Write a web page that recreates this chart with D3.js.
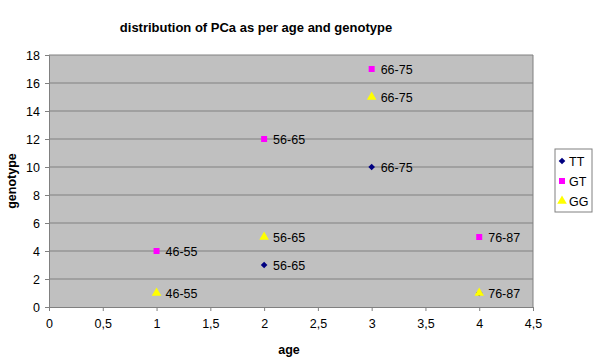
<!DOCTYPE html>
<html>
<head>
<meta charset="utf-8">
<script src="https://cdn.jsdelivr.net/npm/d3@7"></script>
<style>
  body { margin: 0; background: #fff; }
  text { font-family: "Liberation Sans", Arial, sans-serif; }
</style>
</head>
<body>
<div id="chart"></div>
<script>
// data
const ageGroups = ["46-55", "56-65", "66-75", "76-87"];
const ttPoints = [{ x: 2, y: 3, label: "56-65" }, { x: 3, y: 10, label: "66-75" }, { x: 4, y: 1, label: "76-87" }];
const gtPoints = [{ x: 1, y: 4, label: "46-55" }, { x: 2, y: 12, label: "56-65" }, { x: 3, y: 17, label: "66-75" }, { x: 4, y: 5, label: "76-87" }];
const ggPoints = [{ x: 1, y: 1, label: "46-55" }, { x: 2, y: 5, label: "56-65" }, { x: 3, y: 15, label: "66-75" }, { x: 4, y: 1, label: "76-87" }];
const xTicks = [0, 0.5, 1, 1.5, 2, 2.5, 3, 3.5, 4, 4.5];
const yTicks = [0, 2, 4, 6, 8, 10, 12, 14, 16, 18];

const series = [
  { name: "TT", points: ttPoints, color: "#000080", symbol: d3.symbolSquare, size: 22, rotate: 45 },
  { name: "GT", points: gtPoints, color: "#FF00FF", symbol: d3.symbolSquare, size: 36, rotate: 0 },
  { name: "GG", points: ggPoints, color: "#FFFF00", symbol: d3.symbolTriangle, size: 40, rotate: 0 }
];

const margin = { top: 55, left: 49 };
const width = 484, height = 252;

const svg = d3.select("#chart").append("svg")
  .attr("width", 600).attr("height", 360);

svg.append("text")
  .attr("x", 256).attr("y", 32)
  .attr("text-anchor", "middle")
  .style("font-size", "13px").style("font-weight", "bold")
  .text("distribution of PCa as per age and genotype");

const g = svg.append("g").attr("transform", `translate(${margin.left},${margin.top})`);

const x = d3.scaleLinear().domain([0, 4.5]).range([0, width]);
const y = d3.scaleLinear().domain([0, 18]).range([height, 0]);

g.append("rect").attr("width", width).attr("height", height).style("fill", "#C0C0C0");

// grid lines
g.append("g").selectAll("line").data(yTicks.filter(d => d > 0)).enter().append("line")
  .attr("x1", 0).attr("x2", width)
  .attr("y1", d => y(d)).attr("y2", d => y(d))
  .attr("stroke", "#808080");

// right border
g.append("line").attr("x1", width).attr("x2", width).attr("y1", 0).attr("y2", height).attr("stroke", "#808080");

const xAxis = g.append("g").attr("transform", `translate(0,${height})`)
  .call(d3.axisBottom(x).tickValues(xTicks).tickSize(4).tickPadding(8).tickFormat(d => String(d).replace(".", ",")));
const yAxis = g.append("g")
  .call(d3.axisLeft(y).tickValues(yTicks).tickSize(4).tickPadding(5));
[xAxis, yAxis].forEach(a => {
  a.select(".domain").attr("stroke", "#808080");
  a.selectAll(".tick line").attr("stroke", "#808080");
  a.selectAll(".tick text").style("font-size", "12.5px").attr("fill", "#000")
    .style("font-family", "'Liberation Sans', Arial, sans-serif");
});

svg.append("text").attr("x", margin.left + width / 2 - 2).attr("y", 354)
  .attr("text-anchor", "middle").style("font-size", "12.5px").style("font-weight", "bold").text("age");
svg.append("text").attr("transform", `translate(16,${margin.top + height / 2}) rotate(-90)`)
  .attr("text-anchor", "middle").style("font-size", "12.5px").style("font-weight", "bold").text("genotype");

// points and labels
series.forEach(s => {
  const sg = g.append("g");
  sg.selectAll("path").data(s.points).enter().append("path")
    .attr("d", d3.symbol().type(s.symbol).size(s.size))
    .attr("transform", d => `translate(${x(d.x)},${y(d.y)}) rotate(${s.rotate})`)
    .style("fill", s.color);
  // the GG label at age 4 sits on top of the TT one, draw it once
  sg.selectAll("text").data(s.points.filter(d => !(s.name === "GG" && d.x === 4))).enter().append("text")
    .attr("x", d => x(d.x) + 9).attr("y", d => y(d.y) + 4.5)
    .style("font-size", "12.5px")
    .text(d => d.label);
});

// legend
const lg = svg.append("g").attr("transform", "translate(555,149)");
lg.append("rect").attr("width", 37).attr("height", 63).style("fill", "#fff").attr("stroke", "#808080");
series.forEach((s, i) => {
  lg.append("path").attr("d", d3.symbol().type(s.symbol).size(s.size))
    .attr("transform", `translate(7,${12 + i * 20}) rotate(${s.rotate})`).style("fill", s.color);
  lg.append("text").attr("x", 14).attr("y", 16.5 + i * 20).style("font-size", "12.5px").text(s.name);
});
</script>
</body>
</html>
